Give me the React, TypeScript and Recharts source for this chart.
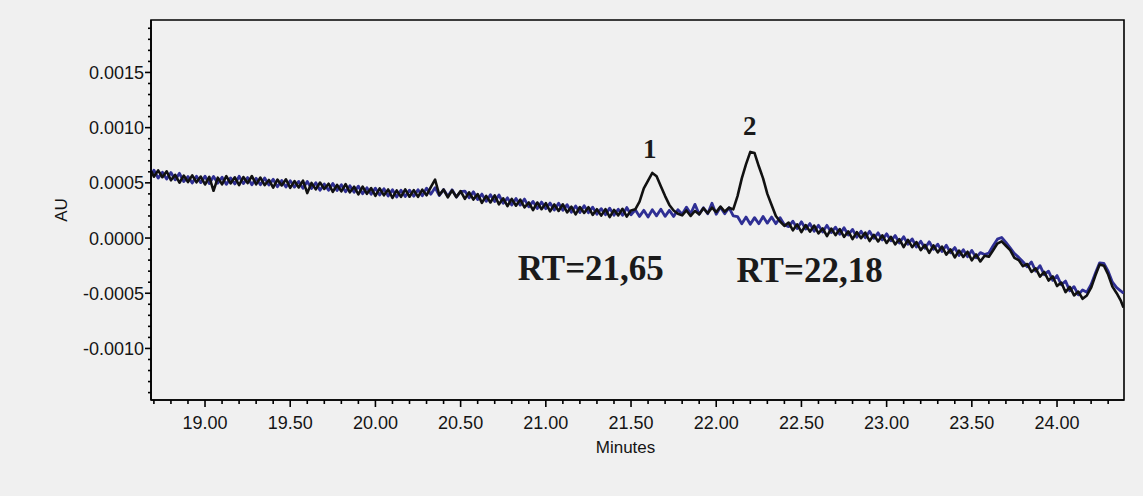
import React from 'react';
import { LineChart, Line, XAxis, YAxis, ReferenceArea, ReferenceDot } from 'recharts';

// Retention time (minutes)
const minutes = [
  18.685,
  18.700, 18.725, 18.750, 18.775, 18.800, 18.825, 18.850, 18.875, 18.900, 18.925,
  18.950, 18.975, 19.000, 19.025, 19.050, 19.075, 19.100, 19.125, 19.150, 19.175,
  19.200, 19.225, 19.250, 19.275, 19.300, 19.325, 19.350, 19.375, 19.400, 19.425,
  19.450, 19.475, 19.500, 19.525, 19.550, 19.575, 19.600, 19.625, 19.650, 19.675,
  19.700, 19.725, 19.750, 19.775, 19.800, 19.825, 19.850, 19.875, 19.900, 19.925,
  19.950, 19.975, 20.000, 20.025, 20.050, 20.075, 20.100, 20.125, 20.150, 20.175,
  20.200, 20.225, 20.250, 20.275, 20.300, 20.325, 20.350, 20.375, 20.400, 20.425,
  20.450, 20.475, 20.500, 20.525, 20.550, 20.575, 20.600, 20.625, 20.650, 20.675,
  20.700, 20.725, 20.750, 20.775, 20.800, 20.825, 20.850, 20.875, 20.900, 20.925,
  20.950, 20.975, 21.000, 21.025, 21.050, 21.075, 21.100, 21.125, 21.150, 21.175,
  21.200, 21.225, 21.250, 21.275, 21.300, 21.325, 21.350, 21.375, 21.400, 21.425,
  21.450, 21.475, 21.500, 21.525, 21.550, 21.575, 21.600, 21.625, 21.650, 21.675,
  21.700, 21.725, 21.750, 21.775, 21.800, 21.825, 21.850, 21.875, 21.900, 21.925,
  21.950, 21.975, 22.000, 22.025, 22.050, 22.075, 22.100, 22.125, 22.150, 22.175,
  22.200, 22.225, 22.250, 22.275, 22.300, 22.325, 22.350, 22.375, 22.400, 22.425,
  22.450, 22.475, 22.500, 22.525, 22.550, 22.575, 22.600, 22.625, 22.650, 22.675,
  22.700, 22.725, 22.750, 22.775, 22.800, 22.825, 22.850, 22.875, 22.900, 22.925,
  22.950, 22.975, 23.000, 23.025, 23.050, 23.075, 23.100, 23.125, 23.150, 23.175,
  23.200, 23.225, 23.250, 23.275, 23.300, 23.325, 23.350, 23.375, 23.400, 23.425,
  23.450, 23.475, 23.500, 23.525, 23.550, 23.575, 23.600, 23.625, 23.650, 23.675,
  23.700, 23.725, 23.750, 23.775, 23.800, 23.825, 23.850, 23.875, 23.900, 23.925,
  23.950, 23.975, 24.000, 24.025, 24.050, 24.075, 24.100, 24.125, 24.150, 24.175,
  24.200, 24.225, 24.250, 24.275, 24.300, 24.325, 24.350, 24.375,
  24.390,
];

// Sample trace (black), AU
const sampleAU = [
  605e-6,
  555e-6, 613e-6, 551e-6, 605e-6, 523e-6, 572e-6, 501e-6, 566e-6, 507e-6, 568e-6,
  505e-6, 557e-6, 485e-6, 554e-6, 428e-6, 547e-6, 486e-6, 561e-6, 495e-6, 550e-6,
  479e-6, 553e-6, 498e-6, 562e-6, 486e-6, 548e-6, 479e-6, 526e-6, 457e-6, 529e-6,
  476e-6, 532e-6, 454e-6, 516e-6, 458e-6, 520e-6, 407e-6, 499e-6, 441e-6, 503e-6,
  445e-6, 492e-6, 419e-6, 481e-6, 423e-6, 489e-6, 414e-6, 465e-6, 395e-6, 466e-6,
  401e-6, 452e-6, 382e-6, 450e-6, 387e-6, 440e-6, 363e-6, 431e-6, 373e-6, 441e-6,
  374e-6, 434e-6, 373e-6, 438e-6, 387e-6, 462e-6, 530e-6, 390e-6, 439e-6, 368e-6,
  432e-6, 371e-6, 425e-6, 355e-6, 414e-6, 349e-6, 398e-6, 318e-6, 382e-6, 322e-6,
  386e-6, 305e-6, 360e-6, 289e-6, 354e-6, 293e-6, 348e-6, 278e-6, 322e-6, 252e-6,
  322e-6, 261e-6, 316e-6, 242e-6, 304e-6, 245e-6, 306e-6, 232e-6, 284e-6, 215e-6,
  281e-6, 227e-6, 279e-6, 210e-6, 261e-6, 203e-6, 262e-6, 190e-6, 255e-6, 205e-6,
  265e-6, 195e-6, 250e-6, 260e-6, 330e-6, 450e-6, 520e-6, 590e-6, 560e-6, 470e-6,
  380e-6, 300e-6, 250e-6, 220e-6, 205e-6, 250e-6, 200e-6, 245e-6, 215e-6, 270e-6,
  225e-6, 275e-6, 235e-6, 285e-6, 240e-6, 275e-6, 260e-6, 380e-6, 540e-6, 670e-6,
  780e-6, 770e-6, 650e-6, 540e-6, 400e-6, 300e-6, 200e-6, 150e-6, 110e-6, 140e-6,
  70e-6, 124e-6, 54e-6, 118e-6, 58e-6, 113e-6, 42e-6, 87e-6, 17e-6, 86e-6,
  26e-6, 81e-6, 10e-6, 60e-6, -10e-6, 54e-6, -1e-6, 49e-6, -27e-6, 29e-6,
  -31e-6, 25e-6, -45e-6, 10e-6, -57e-6, -10e-6, -83e-6, -16e-6, -83e-6, -36e-6,
  -109e-6, -62e-6, -134e-6, -67e-6, -130e-6, -77e-6, -150e-6, -103e-6, -176e-6, -113e-6,
  -171e-6, -124e-6, -202e-6, -149e-6, -212e-6, -160e-6, -170e-6, -110e-6, -50e-6, -30e-6,
  -70e-6, -110e-6, -180e-6, -200e-6, -255e-6, -235e-6, -307e-6, -274e-6, -350e-6, -307e-6,
  -385e-6, -348e-6, -435e-6, -403e-6, -490e-6, -443e-6, -520e-6, -485e-6, -550e-6, -520e-6,
  -450e-6, -340e-6, -240e-6, -250e-6, -330e-6, -440e-6, -500e-6, -570e-6,
  -630e-6,
];

// Blank trace (blue), AU
const blankAU = [
  570e-6,
  615e-6, 543e-6, 596e-6, 535e-6, 593e-6, 527e-6, 586e-6, 511e-6, 557e-6, 498e-6,
  560e-6, 502e-6, 560e-6, 494e-6, 558e-6, 497e-6, 551e-6, 486e-6, 545e-6, 490e-6,
  559e-6, 493e-6, 548e-6, 482e-6, 541e-6, 483e-6, 544e-6, 481e-6, 532e-6, 464e-6,
  521e-6, 462e-6, 519e-6, 461e-6, 513e-6, 450e-6, 512e-6, 449e-6, 501e-6, 433e-6,
  490e-6, 432e-6, 494e-6, 431e-6, 483e-6, 419e-6, 474e-6, 415e-6, 470e-6, 401e-6,
  456e-6, 397e-6, 452e-6, 390e-6, 447e-6, 380e-6, 438e-6, 371e-6, 433e-6, 376e-6,
  434e-6, 379e-6, 438e-6, 383e-6, 452e-6, 397e-6, 456e-6, 385e-6, 439e-6, 378e-6,
  437e-6, 371e-6, 420e-6, 425e-6, 364e-6, 419e-6, 348e-6, 398e-6, 332e-6, 392e-6,
  331e-6, 390e-6, 315e-6, 364e-6, 299e-6, 358e-6, 298e-6, 353e-6, 282e-6, 332e-6,
  267e-6, 326e-6, 266e-6, 317e-6, 254e-6, 315e-6, 251e-6, 302e-6, 234e-6, 290e-6,
  231e-6, 292e-6, 229e-6, 280e-6, 216e-6, 266e-6, 211e-6, 271e-6, 206e-6, 261e-6,
  206e-6, 276e-6, 211e-6, 256e-6, 196e-6, 251e-6, 191e-6, 256e-6, 201e-6, 261e-6,
  196e-6, 251e-6, 196e-6, 256e-6, 215e-6, 280e-6, 220e-6, 305e-6, 215e-6, 275e-6,
  220e-6, 315e-6, 215e-6, 280e-6, 220e-6, 275e-6, 200e-6, 195e-6, 130e-6, 190e-6,
  125e-6, 185e-6, 130e-6, 195e-6, 135e-6, 190e-6, 130e-6, 185e-6, 120e-6, 103e-6,
  153e-6, 87e-6, 147e-6, 81e-6, 131e-6, 61e-6, 115e-6, 55e-6, 115e-6, 49e-6,
  99e-6, 34e-6, 93e-6, 28e-6, 78e-6, 7e-6, 62e-6, 2e-6, 61e-6, -3e-6,
  47e-6, -17e-6, 38e-6, -25e-6, 23e-6, -45e-6, 12e-6, -56e-6, -8e-6, -81e-6,
  -29e-6, -92e-6, -34e-6, -102e-6, -55e-6, -122e-6, -65e-6, -133e-6, -86e-6, -158e-6,
  -106e-6, -169e-6, -112e-6, -179e-6, -132e-6, -150e-6, -135e-6, -70e-6, -10e-6, 5e-6,
  -40e-6, -90e-6, -140e-6, -175e-6, -215e-6, -260e-6, -217e-6, -299e-6, -250e-6, -332e-6,
  -300e-6, -383e-6, -340e-6, -423e-6, -390e-6, -478e-6, -440e-6, -515e-6, -470e-6, -490e-6,
  -420e-6, -320e-6, -225e-6, -230e-6, -300e-6, -400e-6, -450e-6, -480e-6,
  -500e-6,
];

const xTicks = [
  18.7, 18.8, 18.9, 19.0, 19.1, 19.2, 19.3, 19.4, 19.5, 19.6,
  19.7, 19.8, 19.9, 20.0, 20.1, 20.2, 20.3, 20.4, 20.5, 20.6,
  20.7, 20.8, 20.9, 21.0, 21.1, 21.2, 21.3, 21.4, 21.5, 21.6,
  21.7, 21.8, 21.9, 22.0, 22.1, 22.2, 22.3, 22.4, 22.5, 22.6,
  22.7, 22.8, 22.9, 23.0, 23.1, 23.2, 23.3, 23.4, 23.5, 23.6,
  23.7, 23.8, 23.9, 24.0, 24.1, 24.2, 24.3,
];

const yTicks = [
  -0.0014, -0.0013, -0.0012, -0.0011, -0.0010, -0.0009, -0.0008, -0.0007, -0.0006, -0.0005,
  -0.0004, -0.0003, -0.0002, -0.0001, 0, 0.0001, 0.0002, 0.0003, 0.0004, 0.0005,
  0.0006, 0.0007, 0.0008, 0.0009, 0.0010, 0.0011, 0.0012, 0.0013, 0.0014, 0.0015,
  0.0016, 0.0017, 0.0018, 0.0019,
];

const peakLabels = [
  { t: 21.61, au: 0.000815, text: '1' },
  { t: 22.196, au: 0.001024, text: '2' },
];
const rtLabels = [
  { t: 21.264, au: -0.000272, text: 'RT=21,65' },
  { t: 22.548, au: -0.00029, text: 'RT=22,18' },
];

const xDomain: [number, number] = [18.683, 24.393];
const yDomain: [number, number] = [-0.001467, 0.001975];

const data = minutes.map((t, i) => ({ t, sample: sampleAU[i], blank: blankAU[i] }));

const sansFont = '"Liberation Sans", Arial, Helvetica, sans-serif';
const serifFont = '"Liberation Serif", "Times New Roman", serif';

const XTick = (props: any) => {
  const { x, y, payload } = props;
  const v = payload.value as number;
  const major = Math.round(v * 10) % 5 === 0;
  return (
    <g>
      <line x1={x} x2={x} y1={y} y2={y + (major ? 7 : 4)} stroke="#000" strokeWidth={1.6} />
      {major && (
        <text x={x} y={y + 29} textAnchor="middle" fontSize={18} fontFamily={sansFont} fill="#141414">
          {v.toFixed(2)}
        </text>
      )}
    </g>
  );
};

const YTick = (props: any) => {
  const { x, y, payload } = props;
  const v = payload.value as number;
  const major = Math.round(v * 10000) % 5 === 0;
  return (
    <g>
      <line x1={x - (major ? 6 : 3)} x2={x} y1={y} y2={y} stroke="#000" strokeWidth={1.6} />
      {major && (
        <text x={x - 7} y={y} dy="0.36em" textAnchor="end" fontSize={18} fontFamily={sansFont} fill="#141414">
          {v.toFixed(4)}
        </text>
      )}
    </g>
  );
};

const AULabel = (props: any) => {
  const vb = props.viewBox;
  const cx = vb.x + 61;
  const cy = vb.y + vb.height / 2;
  return (
    <text x={cx} y={cy} transform={`rotate(-90 ${cx} ${cy})`} textAnchor="middle" dy="0.36em" fontSize={17} fontFamily={sansFont} fill="#141414">
      AU
    </text>
  );
};

const MinutesLabel = (props: any) => {
  const vb = props.viewBox;
  const cx = vb.x + vb.width / 2 - 12;
  const cy = vb.y + 53;
  return (
    <text x={cx} y={cy} textAnchor="middle" fontSize={17} fontFamily={sansFont} fill="#141414">
      Minutes
    </text>
  );
};

export default function App() {
  return (
    <div style={{ position: 'absolute', left: 0, top: 0, width: 1143, height: 496, background: '#f0f0f0' }}>
      <LineChart width={1143} height={496} data={data} margin={{ top: 20, right: 19, bottom: 46, left: 0 }}>
        <XAxis
          dataKey="t"
          type="number"
          domain={xDomain}
          ticks={xTicks}
          interval={0}
          allowDataOverflow
          tick={<XTick />}
          tickLine={false}
          tickSize={0}
          tickMargin={0}
          height={50}
          axisLine={{ stroke: '#000', strokeWidth: 1.6 }}
          label={<MinutesLabel />}
        />
        <YAxis
          type="number"
          domain={yDomain}
          ticks={yTicks}
          interval={0}
          allowDataOverflow
          tick={<YTick />}
          tickLine={false}
          tickSize={0}
          tickMargin={0}
          width={151}
          axisLine={{ stroke: '#000', strokeWidth: 1.6 }}
          label={<AULabel />}
        />
        <ReferenceArea
          x1={xDomain[0]}
          x2={xDomain[1]}
          y1={yDomain[0]}
          y2={yDomain[1]}
          fill="none"
          stroke="#000"
          strokeWidth={1.6}
          ifOverflow="visible"
        />
        <Line dataKey="blank" stroke="#2f2f94" strokeWidth={2.8} strokeLinejoin="round" dot={false} isAnimationActive={false} />
        <Line dataKey="sample" stroke="#111111" strokeWidth={2.6} strokeLinejoin="round" dot={false} isAnimationActive={false} />
        {peakLabels.map((p) => (
          <ReferenceDot
            key={p.text}
            x={p.t}
            y={p.au}
            r={0}
            fill="none"
            stroke="none"
            label={{ value: p.text, position: 'center', fontSize: 27, fontWeight: 'bold', fontFamily: serifFont, fill: '#1a1a1a' }}
          />
        ))}
        {rtLabels.map((p) => (
          <ReferenceDot
            key={p.text}
            x={p.t}
            y={p.au}
            r={0}
            fill="none"
            stroke="none"
            label={{ value: p.text, position: 'center', fontSize: 35, fontWeight: 'bold', fontFamily: serifFont, fill: '#1a1a1a' }}
          />
        ))}
      </LineChart>
    </div>
  );
}
